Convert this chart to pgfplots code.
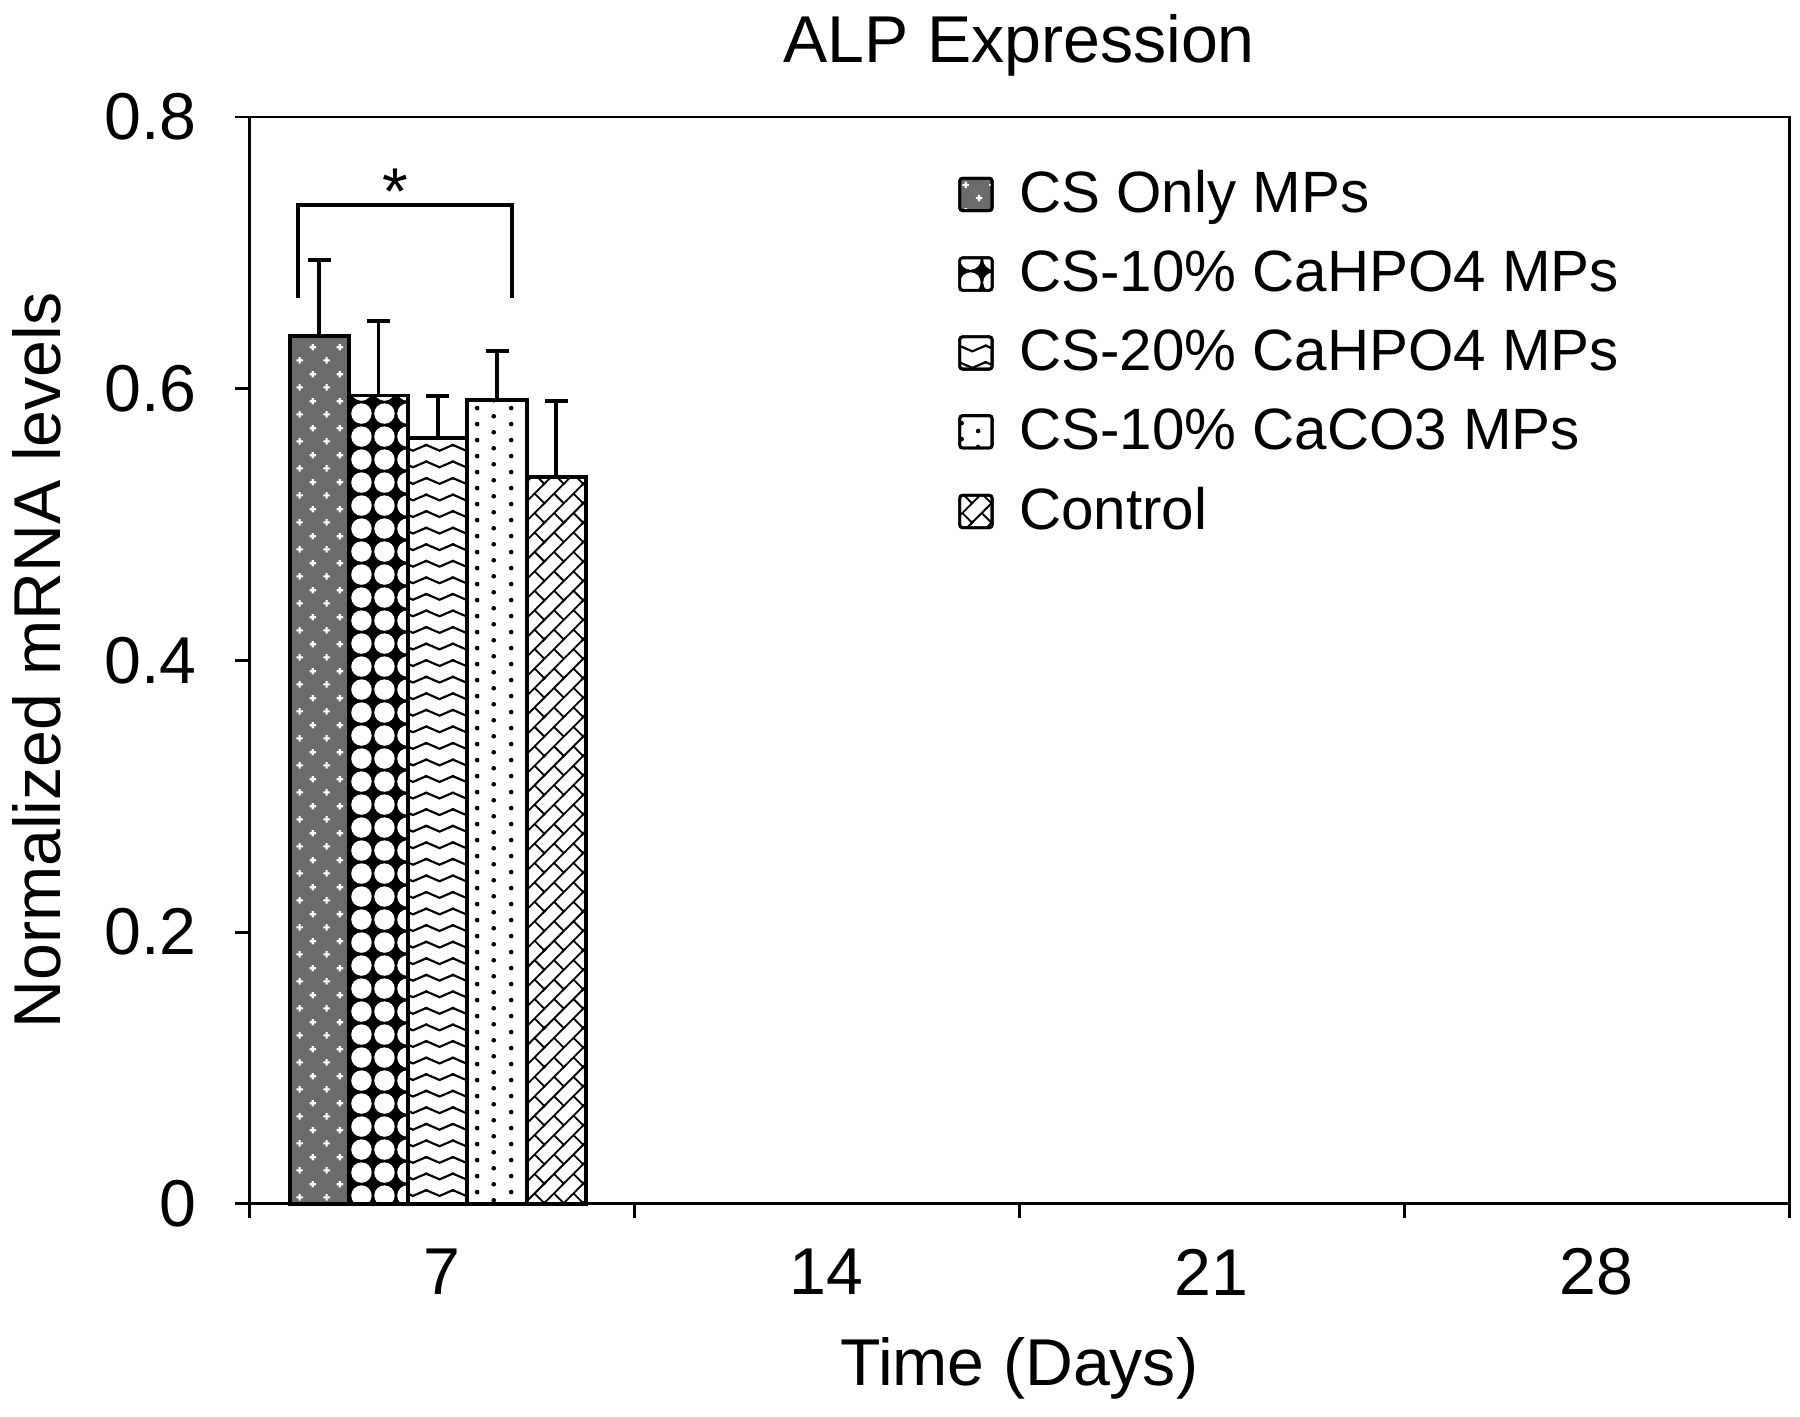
\documentclass[border=0pt]{standalone}
\usepackage{pgfplots}
\pgfplotsset{compat=1.18}
\usepackage{fontspec}
\setmainfont{Liberation Sans}
\usetikzlibrary{patterns}

% white plus signs (on grey)
\pgfdeclarepatternformonly{pluses}{\pgfqpoint{0pt}{0pt}}{\pgfqpoint{7.4pt}{7.4pt}}{\pgfqpoint{7.4pt}{7.4pt}}{%
  \pgfpathrectangle{\pgfqpoint{0.95pt}{1.55pt}}{\pgfqpoint{1.8pt}{0.6pt}}%
  \pgfpathrectangle{\pgfqpoint{1.55pt}{0.95pt}}{\pgfqpoint{0.6pt}{1.8pt}}%
  \pgfpathrectangle{\pgfqpoint{4.65pt}{5.25pt}}{\pgfqpoint{1.8pt}{0.6pt}}%
  \pgfpathrectangle{\pgfqpoint{5.25pt}{4.65pt}}{\pgfqpoint{0.6pt}{1.8pt}}%
  \pgfusepath{fill}}
% white blobs (on black)
\pgfdeclarepatternformonly{blobs}{\pgfqpoint{0pt}{0pt}}{\pgfqpoint{6.5pt}{6.5pt}}{\pgfqpoint{6.5pt}{6.5pt}}{%
  \pgfpathcircle{\pgfqpoint{3.25pt}{3.25pt}}{2.9pt}%
  \pgfusepath{fill}}
% zigzag lines
\pgfdeclarepatternformonly{zigzag}{\pgfqpoint{-0.5pt}{-0.5pt}}{\pgfqpoint{7.9pt}{5.1pt}}{\pgfqpoint{7.4pt}{4.6pt}}{%
  \pgfsetlinewidth{0.6pt}%
  \pgfpathmoveto{\pgfqpoint{-0.5pt}{3.0pt}}%
  \pgfpathlineto{\pgfqpoint{0pt}{3.2pt}}%
  \pgfpathlineto{\pgfqpoint{3.7pt}{1.6pt}}%
  \pgfpathlineto{\pgfqpoint{7.4pt}{3.2pt}}%
  \pgfpathlineto{\pgfqpoint{7.9pt}{3.0pt}}%
  \pgfusepath{stroke}}
% sparse dots
\pgfdeclarepatternformonly{sparsedots}{\pgfqpoint{0pt}{0pt}}{\pgfqpoint{9.3pt}{4.4pt}}{\pgfqpoint{9.3pt}{4.4pt}}{%
  \pgfpathcircle{\pgfqpoint{2.3pt}{1.1pt}}{0.65pt}%
  \pgfpathcircle{\pgfqpoint{6.95pt}{3.3pt}}{0.65pt}%
  \pgfusepath{fill}}
% diagonal bricks
\pgfdeclarepatternformonly{diagbricks}{\pgfqpoint{-0.5pt}{-0.5pt}}{\pgfqpoint{11.3pt}{11.3pt}}{\pgfqpoint{10.8pt}{10.8pt}}{%
  \pgfsetlinewidth{0.5pt}%
  \pgfpathmoveto{\pgfqpoint{-0.5pt}{-0.5pt}}\pgfpathlineto{\pgfqpoint{11.3pt}{11.3pt}}%
  \pgfpathmoveto{\pgfqpoint{4.9pt}{-0.5pt}}\pgfpathlineto{\pgfqpoint{11.3pt}{5.9pt}}%
  \pgfpathmoveto{\pgfqpoint{-0.5pt}{4.9pt}}\pgfpathlineto{\pgfqpoint{5.9pt}{11.3pt}}%
  \pgfpathmoveto{\pgfqpoint{10.3pt}{-0.5pt}}\pgfpathlineto{\pgfqpoint{11.3pt}{0.5pt}}%
  \pgfpathmoveto{\pgfqpoint{-0.5pt}{10.3pt}}\pgfpathlineto{\pgfqpoint{0.5pt}{11.3pt}}%
  \pgfpathmoveto{\pgfqpoint{2.7pt}{2.7pt}}\pgfpathlineto{\pgfqpoint{5.4pt}{0pt}}%
  \pgfpathmoveto{\pgfqpoint{8.1pt}{8.1pt}}\pgfpathlineto{\pgfqpoint{10.8pt}{5.4pt}}%
  \pgfpathmoveto{\pgfqpoint{5.4pt}{5.4pt}}\pgfpathlineto{\pgfqpoint{2.7pt}{8.1pt}}%
  \pgfpathmoveto{\pgfqpoint{10.8pt}{0pt}}\pgfpathlineto{\pgfqpoint{8.1pt}{2.7pt}}%
  \pgfusepath{stroke}}

\begin{document}
\begin{tikzpicture}
\begin{axis}[
  scale only axis,
  width=427.8pt, height=301.9pt,
  xmin=0.5, xmax=4.5,
  ymin=0, ymax=0.8,
  axis line style={line width=0.8pt},
  xtick={1,2,3,4},
  xticklabels={7,14,21,28},
  major x tick style={draw=none},
  minor xtick={0.5,1.5,2.5,3.5,4.5},
  minor x tick style={line width=0.8pt, black},
  ytick={0,0.2,0.4,0.6,0.8},
  ytick style={line width=0.8pt, black},
  tick align=outside,
  xtick pos=bottom, ytick pos=left,
  major tick length=3.9pt, minor tick length=3.9pt,
  /pgf/number format/assume math mode=true,
  tick label style={font=\fontsize{18.4}{22}\selectfont},
  xticklabel style={anchor=center, yshift=-15pt},
  yticklabel style={anchor=east, inner sep=0pt, xshift=-10.5pt},
  xlabel={Time (Days)},
  xlabel style={font=\fontsize{18.4}{22}\selectfont, at={(axis description cs:0.5,-0.1515)}, anchor=center, inner sep=0pt},
  ylabel={Normalized mRNA levels},
  ylabel style={font=\fontsize{18.4}{22}\selectfont, at={(axis description cs:-0.1377,0.5)}, anchor=center, inner sep=0pt},
  ybar, bar width=0.154, bar shift=0pt,
  clip=false,
  legend style={draw=none, fill=none, at={(axis description cs:0.46,0.958)}, anchor=north west,
     font=\fontsize{16.2}{19}\selectfont, row sep=5.1pt, inner sep=0pt},
  legend cell align=left,
  legend image code/.code={\draw[#1, line width=0.8pt, rounded corners=0.8pt] (0pt,-4.5pt) rectangle (9pt,4.5pt);
     \path (14pt,0pt);},
  every axis plot/.append style={draw=black, line width=1.1pt},
  error bars/error bar style={line width=1.1pt, black},
  error bars/error mark options={rotate=90, mark size=3.2pt, line width=1.1pt, black},
]
\addplot[fill=black!58, postaction={pattern=pluses, pattern color=white},
  error bars/.cd, y dir=plus, y explicit]
  coordinates {(0.682,0.639) +- (0,0.056)};
\addlegendentry{CS Only MPs}
\addplot[fill=black, postaction={pattern=blobs, pattern color=white},
  error bars/.cd, y dir=plus, y explicit]
  coordinates {(0.836,0.595) +- (0,0.055)};
\addlegendentry{CS-10\% CaHPO4 MPs}
\addplot[fill=white, postaction={pattern=zigzag, pattern color=black},
  error bars/.cd, y dir=plus, y explicit]
  coordinates {(0.990,0.564) +- (0,0.031)};
\addlegendentry{CS-20\% CaHPO4 MPs}
\addplot[fill=white, postaction={pattern=sparsedots, pattern color=black},
  error bars/.cd, y dir=plus, y explicit]
  coordinates {(1.144,0.592) +- (0,0.036)};
\addlegendentry{CS-10\% CaCO3 MPs}
\addplot[fill=white, postaction={pattern=diagbricks, pattern color=black},
  error bars/.cd, y dir=plus, y explicit]
  coordinates {(1.298,0.535) +- (0,0.056)};
\addlegendentry{Control}

% title
\node[font=\fontsize{18.4}{22}\selectfont, inner sep=0pt] at (axis description cs:0.5,1.0656) {ALP Expression};

% significance bracket
\draw[line width=1.1pt, black] (axis cs:0.626,0.667) -- (axis cs:0.626,0.735) -- (axis cs:1.183,0.735) -- (axis cs:1.183,0.667);
\node[font=\fontsize{18.4}{22}\selectfont] at (axis cs:0.879,0.745) {*};

% bounding box
\path (rel axis cs:0,0) ++(-69.2pt,-59.2pt) rectangle ++(500pt,393.6pt);
\end{axis}
\end{tikzpicture}
\end{document}
